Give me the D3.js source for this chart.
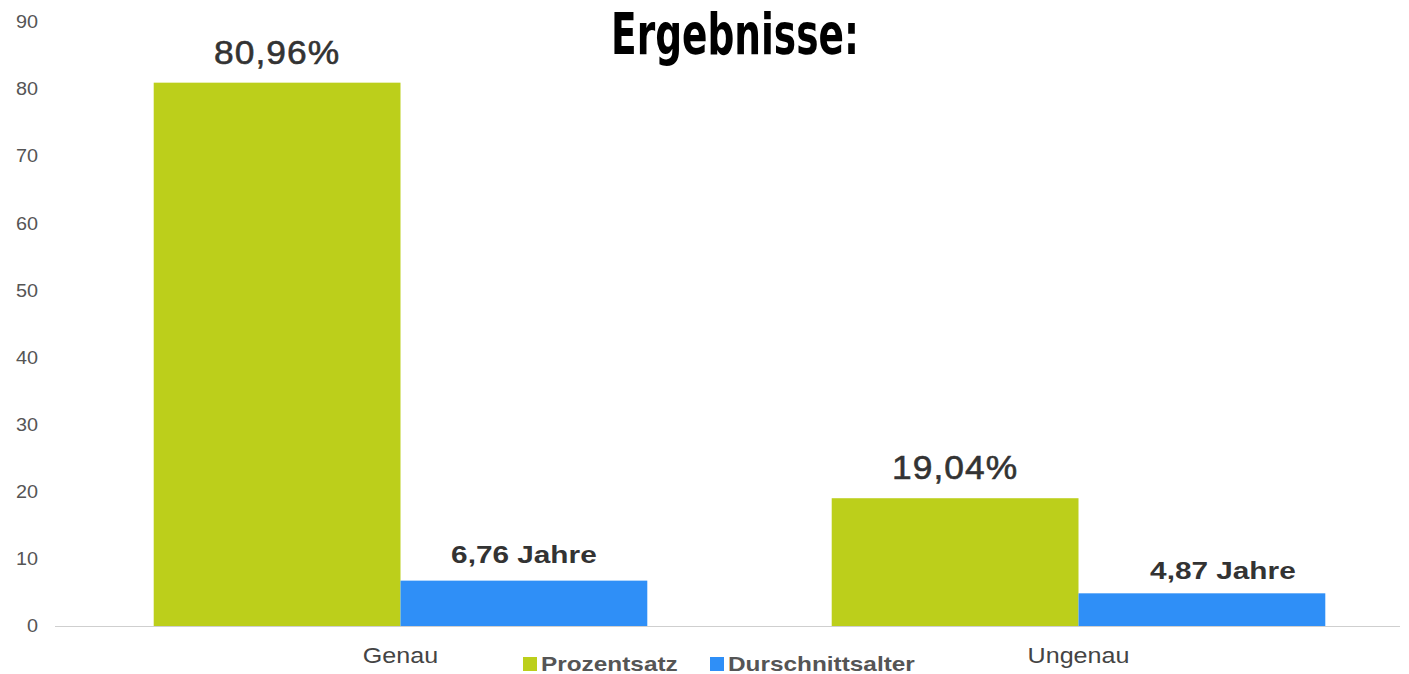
<!DOCTYPE html>
<html>
<head>
<meta charset="utf-8">
<script src="https://d3js.org/d3.v7.min.js"></script>
<style>
    body { margin: 0; background: #fff; }
    svg { display: block; }
</style>
</head>
<body>
<div id="chart"></div>
<script>
    // Chart data
    const categories = ["Genau", "Ungenau"];
    const seriesNames = ["Prozentsatz", "Durschnittsalter"];
    const prozentsatz = [80.96, 19.04];
    const durchschnittsalter = [6.76, 4.87];
    const valueLabels = [["80,96%", "6,76 Jahre"], ["19,04%", "4,87 Jahre"]];
    const yTicks = [0, 10, 20, 30, 40, 50, 60, 70, 80, 90];

    const colors = ["#bccf1b", "#2f8ff7"];

    const width = 1409;
    const height = 674;
    const margin = { top: 22, bottom: 48 };

    const svg = d3.select("#chart").append("svg")
        .attr("width", width)
        .attr("height", height);

    // widen text horizontally, the source picture is stretched
    const stretch = (sel, k) => sel.each(function () {
        const len = this.getComputedTextLength();
        d3.select(this)
            .attr("textLength", len * k)
            .attr("lengthAdjust", "spacingAndGlyphs");
    });

    const x0 = d3.scaleBand()
        .domain(categories)
        .range([61.5, 1417.5])
        .paddingInner(0.272)
        .paddingOuter(0.136);

    const x1 = d3.scaleBand()
        .domain(seriesNames)
        .range([0, x0.bandwidth()]);

    const y = d3.scaleLinear()
        .domain([0, 90])
        .range([height - margin.bottom, margin.top]);

    // y axis labels
    const yAxis = svg.append("g")
        .attr("transform", "translate(38,0)")
        .call(d3.axisLeft(y).tickValues(yTicks).tickSize(0).tickPadding(0));
    yAxis.select(".domain").remove();
    yAxis.selectAll("text")
        .style("font", "18px 'Liberation Sans', Arial, sans-serif")
        .attr("fill", "#555")
        .call(stretch, 1.1);

    // baseline
    svg.append("line")
        .attr("x1", 55).attr("x2", 1400)
        .attr("y1", y(0) + 0.5).attr("y2", y(0) + 0.5)
        .attr("stroke", "#cfcfcf")
        .attr("stroke-width", 1);

    const rows = categories.map((c, i) => ({
        category: c,
        values: [
            { series: seriesNames[0], value: prozentsatz[i], label: valueLabels[i][0] },
            { series: seriesNames[1], value: durchschnittsalter[i], label: valueLabels[i][1] }
        ]
    }));

    const groups = svg.selectAll(".group")
        .data(rows)
        .enter().append("g")
        .attr("class", "group")
        .attr("transform", d => `translate(${x0(d.category)},0)`);

    groups.selectAll("rect")
        .data(d => d.values)
        .enter().append("rect")
        .attr("x", d => x1(d.series))
        .attr("y", d => y(d.value))
        .attr("width", x1.bandwidth())
        .attr("height", d => y(0) - y(d.value))
        .attr("fill", (d, i) => colors[i]);

    // value labels
    groups.selectAll(".pct")
        .data(d => [d.values[0]])
        .enter().append("text")
        .attr("x", d => x1(d.series) + x1.bandwidth() / 2)
        .attr("y", d => y(d.value) - 19)
        .attr("text-anchor", "middle")
        .style("font", "34px 'Liberation Sans', Arial, sans-serif")
        .style("letter-spacing", "1px")
        .attr("fill", "#333")
        .attr("stroke", "#333")
        .attr("stroke-width", 0.6)
        .text(d => d.label)
        .call(stretch, 1.04);

    const ageNudge = [{ dx: 0, dy: -18 }, { dx: 21, dy: -14 }];
    groups.selectAll(".age")
        .data((d, i) => [Object.assign({}, ageNudge[i], d.values[1])])
        .enter().append("text")
        .attr("x", d => x1(d.series) + x1.bandwidth() / 2 + d.dx)
        .attr("y", d => y(d.value) + d.dy)
        .attr("text-anchor", "middle")
        .style("font", "bold 24px 'Liberation Sans', Arial, sans-serif")
        .attr("fill", "#333")
        .text(d => d.label)
        .call(stretch, 1.24);

    // category labels
    svg.selectAll(".cat")
        .data(categories)
        .enter().append("text")
        .attr("x", d => x0(d) + x0.bandwidth() / 2)
        .attr("y", 663)
        .attr("text-anchor", "middle")
        .style("font", "22px 'Liberation Sans', Arial, sans-serif")
        .attr("fill", "#444")
        .text(d => d)
        .call(stretch, 1.14);

    // legend
    const legendX = [523, 710];
    const legend = svg.selectAll(".legend")
        .data(seriesNames)
        .enter().append("g")
        .attr("transform", (d, i) => `translate(${legendX[i]},657)`);
    legend.append("rect")
        .attr("width", 14).attr("height", 14)
        .attr("fill", (d, i) => colors[i]);
    legend.append("text")
        .attr("x", 18)
        .attr("y", 14)
        .style("font", "bold 21px 'Liberation Sans', Arial, sans-serif")
        .attr("fill", "#555")
        .text(d => d)
        .call(stretch, 1.16);

    // title
    svg.append("text")
        .attr("x", 611)
        .attr("y", 54)
        .attr("textLength", 248)
        .attr("lengthAdjust", "spacingAndGlyphs")
        .style("font", "bold 57px 'Liberation Sans Narrow', 'DejaVu Sans Condensed', sans-serif")
        .attr("fill", "#000")
        .text("Ergebnisse:");
</script>
</body>
</html>
